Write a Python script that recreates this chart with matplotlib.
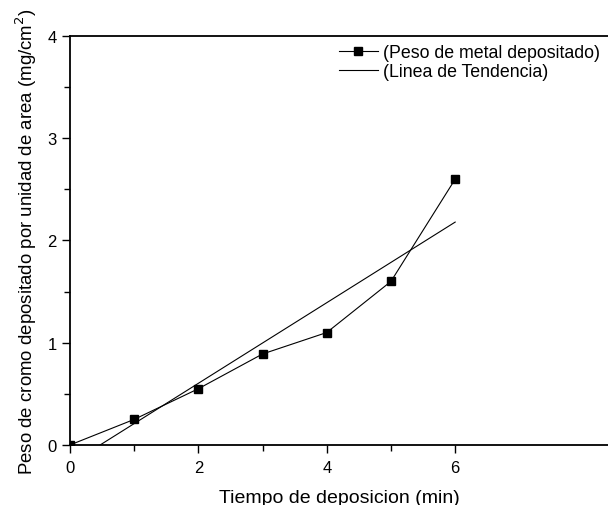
import numpy as np
import matplotlib.pyplot as plt

plt.rcParams['font.family'] = ['Liberation Sans', 'DejaVu Sans']

# datos
tiempo = [0, 1, 2, 3, 4, 5, 6]
peso = [0.0, 0.25, 0.55, 0.89, 1.1, 1.6, 2.6]

# linea de tendencia (extremos)
t_tend = [0.47, 6.0]
p_tend = [0.0, 2.18]

fig = plt.figure(figsize=(6.08, 5.06), dpi=100)
ax = fig.add_axes([0.115, 0.1186, 0.885, 0.8083])

ax.plot(tiempo, peso, '-s', color='black', lw=0.8, ms=6.3,
        label='(Peso de metal depositado)')
ax.plot(t_tend, p_tend, '-', color='black', lw=0.8, label='(Linea de Tendencia)')

ax.set_xlim(0, 8.38)
ax.set_ylim(0, 4)
ax.set_xticks([0, 2, 4, 6])
ax.set_xticks([1, 3, 5], minor=True)
ax.set_yticks([0, 1, 2, 3, 4])
ax.set_yticks([0.5, 1.5, 2.5, 3.5], minor=True)
ax.tick_params(which='both', direction='out', labelsize=12, width=1)
ax.tick_params(which='major', length=6)
ax.tick_params(which='minor', length=4)
ax.tick_params(axis='x', pad=5)
ax.spines['right'].set_visible(False)
for s in ['left', 'bottom', 'top']:
    ax.spines[s].set_linewidth(1.3)

ax.set_xlabel('Tiempo de deposicion (min)', fontsize=14, labelpad=10)
ax.set_ylabel('Peso de cromo depositado por unidad de area (mg/cm$^2$)', fontsize=13.4, labelpad=6)

ax.legend(loc='upper right', frameon=False, fontsize=12.8, handlelength=2.2,
          borderaxespad=0.1, borderpad=0.35, handletextpad=0.3, labelspacing=0.1)

plt.savefig('out.png')
